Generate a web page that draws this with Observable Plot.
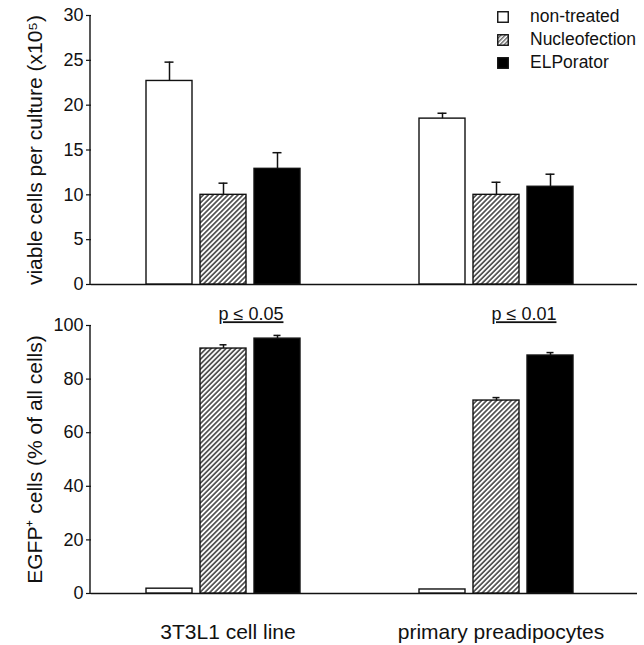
<!DOCTYPE html>
<html>
<head>
<meta charset="utf-8">
<script src="https://cdn.jsdelivr.net/npm/d3@7"></script>
<script src="https://cdn.jsdelivr.net/npm/@observablehq/plot@0.6"></script>
<style>
  html, body { margin: 0; padding: 0; background: #fff; }
  #wrap { position: relative; width: 644px; height: 645px; font-family: "Liberation Sans", Arial, sans-serif; }
  #topPanel, #bottomPanel { position: absolute; left: 0; }
  #topPanel { top: 0; }
  #bottomPanel { top: 300px; }
  #legend { position: absolute; left: 497px; top: 5px; font-size: 17.5px; color: #111; }
  #legend .row { display: flex; align-items: center; height: 23px; }
  #legend svg { margin-right: 21px; }
</style>
</head>
<body>
<div id="wrap">
  <div id="topPanel"></div>
  <div id="bottomPanel"></div>
  <div id="legend"></div>
</div>
<script>
// ---------- data ----------
const groups = ["3T3L1 cell line", "primary preadipocytes"];
const treatments = ["non-treated", "Nucleofection", "ELPorator"];

const viable3T3 = [22.7, 10.0, 12.9];
const viable3T3Err = [2.1, 1.3, 1.8];
const viablePrimary = [18.5, 10.0, 10.9];
const viablePrimaryErr = [0.6, 1.4, 1.4];

const egfp3T3 = [1.8, 91.4, 95.1];
const egfp3T3Err = [0, 1.4, 1.2];
const egfpPrimary = [1.5, 72.0, 88.8];
const egfpPrimaryErr = [0, 1.1, 1.1];

const pLabels = ["p ≤ 0.05", "p ≤ 0.01"];

const viableTicks = [0, 5, 10, 15, 20, 25, 30];
const egfpTicks = [0, 20, 40, 60, 80, 100];

const viableLabel = "viable cells per culture (x10⁵)";
const egfpLabel = "EGFP⁺ cells (% of all cells)";

// ---------- build tables ----------
function rows(a, aErr, b, bErr) {
  const out = [];
  treatments.forEach((t, i) => out.push({group: groups[0], t, v: a[i], e: aErr[i]}));
  treatments.forEach((t, i) => out.push({group: groups[1], t, v: b[i], e: bErr[i]}));
  return out;
}
const viableRows = rows(viable3T3, viable3T3Err, viablePrimary, viablePrimaryErr);
const egfpRows = rows(egfp3T3, egfp3T3Err, egfpPrimary, egfpPrimaryErr);
const pRows = groups.map((g, i) => ({group: g, label: pLabels[i]}));

const ink = "#111";
const font = "'Liberation Sans', Arial, sans-serif";
const marginLeft = 90;

function hatchDefs(svg, id) {
  d3.select(svg).insert("defs", ":first-child").html(
    `<pattern id="${id}" width="3.5" height="3.5" patternUnits="userSpaceOnUse" patternTransform="rotate(45)">
       <rect width="3.5" height="3.5" fill="#fff"/>
       <line x1="0.9" y1="0" x2="0.9" y2="3.5" stroke="#2a2a2a" stroke-width="1.4"/>
     </pattern>`);
}

// y-axis line drawn from the plot's own y scale
function axisLine(svg) {
  const [y0, y1] = svg.scale("y").range;
  d3.select(svg).append("line")
    .attr("x1", marginLeft).attr("x2", marginLeft)
    .attr("y1", y0 + 0.7).attr("y2", y1)
    .attr("stroke", ink).attr("stroke-width", 1.4);
}

function barMarks(data, hatchId, capInset) {
  const fills = {"non-treated": "white", "Nucleofection": `url(#${hatchId})`, "ELPorator": "black"};
  const marks = [];
  treatments.forEach(t => {
    marks.push(Plot.barY(data, {
      filter: d => d.t === t, fx: "group", x: "t", y: "v",
      fill: fills[t], stroke: ink, strokeWidth: 1.4
    }));
  });
  const withErr = data.filter(d => d.e > 0);
  marks.push(Plot.ruleX(withErr, {fx: "group", x: "t", y1: "v", y2: d => d.v + d.e, stroke: ink, strokeWidth: 1.5}));
  marks.push(Plot.tickY(withErr, {fx: "group", x: "t", y: d => d.v + d.e, stroke: ink, strokeWidth: 1.5, insetLeft: capInset, insetRight: capInset}));
  return marks;
}

const xScale = {domain: treatments, paddingInner: 0.145, paddingOuter: 1.06, align: 0.46, axis: null};

// ---------- top panel ----------
const topPlot = Plot.plot({
  width: 644, height: 300,
  marginLeft, marginRight: 7, marginTop: 15, marginBottom: 16,
  style: {fontFamily: font, color: ink, background: "white"},
  fx: {domain: groups, padding: 0, axis: null, label: null},
  x: xScale,
  y: {domain: [0, 30]},
  marks: [
    Plot.axisY({ticks: viableTicks, tickSize: 5, tickPadding: 3, fontSize: 18, stroke: ink, strokeWidth: 1.2,
      label: viableLabel, labelAnchor: "center", labelOffset: 64, labelArrow: "none"}),
    Plot.ruleY([0], {stroke: ink, strokeWidth: 1.4}),
    ...barMarks(viableRows, "hatchTop", 18.5)
  ]
});
hatchDefs(topPlot, "hatchTop");
axisLine(topPlot);
document.getElementById("topPanel").appendChild(topPlot);

// ---------- bottom panel ----------
const bottomPlot = Plot.plot({
  width: 644, height: 345,
  marginLeft, marginRight: 7, marginTop: 25, marginBottom: 52,
  style: {fontFamily: font, color: ink, background: "white"},
  fx: {domain: groups, padding: 0, label: null},
  x: xScale,
  y: {domain: [0, 100]},
  marks: [
    Plot.axisY({ticks: egfpTicks, tickSize: 5, tickPadding: 3, fontSize: 18, stroke: ink, strokeWidth: 1.2,
      label: egfpLabel, labelAnchor: "center", labelOffset: 64, labelArrow: "none"}),
    Plot.axisFx({anchor: "bottom", tickSize: 0, tickPadding: 31, fontSize: 21, label: null}),
    Plot.ruleY([0], {stroke: ink, strokeWidth: 1.4}),
    ...barMarks(egfpRows, "hatchBottom", 19.5),
    Plot.text(pRows, {fx: "group", x: () => "Nucleofection", dx: 27.5, frameAnchor: "top", dy: -18,
      text: "label", fontSize: 18, fill: ink})
  ]
});
hatchDefs(bottomPlot, "hatchBottom");
axisLine(bottomPlot);
document.getElementById("bottomPanel").appendChild(bottomPlot);

// style tweaks
[topPlot, bottomPlot].forEach(svg => {
  d3.select(svg).selectAll('g[aria-label="y-axis label"]').attr("font-size", 21);
  d3.select(svg).selectAll("text").filter(function() { return this.textContent.startsWith("p ≤"); })
    .style("text-decoration", "underline");
});

// ---------- legend ----------
const legend = d3.select("#legend");
const legendFills = ["white", "url(#hatchLegend)", "black"];
treatments.forEach((t, i) => {
  const row = legend.append("div").attr("class", "row");
  const s = row.append("svg").attr("width", 12).attr("height", 12);
  if (i === 1) {
    s.append("defs").html(`<pattern id="hatchLegend" width="3" height="3" patternUnits="userSpaceOnUse" patternTransform="rotate(45)"><rect width="3" height="3" fill="#fff"/><line x1="0.75" y1="0" x2="0.75" y2="3" stroke="#333" stroke-width="1.1"/></pattern>`);
  }
  s.append("rect").attr("x", 0.75).attr("y", 0.75).attr("width", 10.5).attr("height", 10.5)
    .attr("fill", legendFills[i]).attr("stroke", ink).attr("stroke-width", 1.4);
  row.append("span").text(t);
});
</script>
</body>
</html>
